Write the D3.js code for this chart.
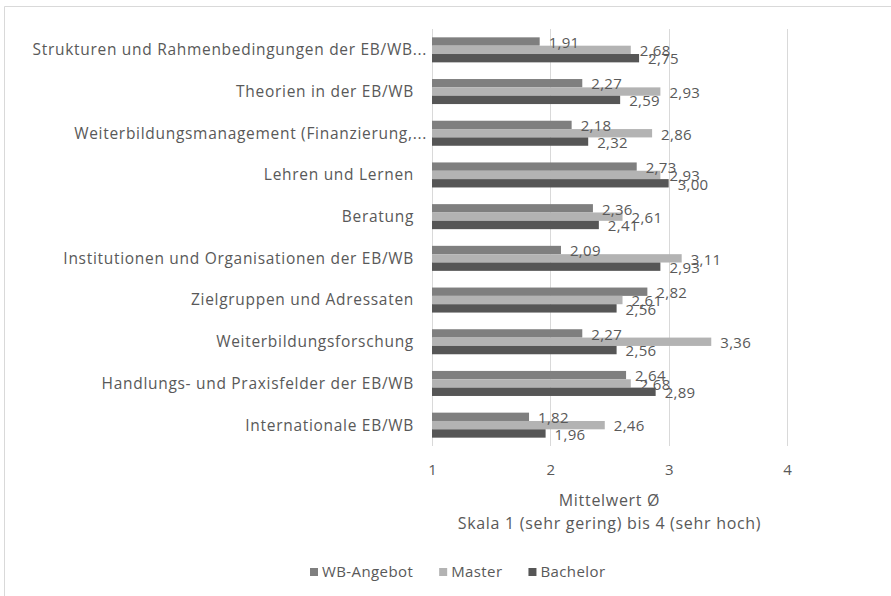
<!DOCTYPE html>
<html>
<head>
<meta charset="utf-8">
<script src="https://cdn.jsdelivr.net/npm/d3@7"></script>
<style>
  html, body { margin: 0; padding: 0; background: #fff; }
  svg { display: block; }
  text { font-family: "Open Sans", "Noto Sans", sans-serif; fill: #595959; }
</style>
</head>
<body>
<svg id="chart" width="891" height="596"></svg>
<script>
const categories = [
  "Strukturen und Rahmenbedingungen der EB/WB...",
  "Theorien in der EB/WB",
  "Weiterbildungsmanagement (Finanzierung,...",
  "Lehren und Lernen",
  "Beratung",
  "Institutionen und Organisationen der EB/WB",
  "Zielgruppen und Adressaten",
  "Weiterbildungsforschung",
  "Handlungs- und Praxisfelder der EB/WB",
  "Internationale EB/WB"
];
const seriesNames = ["WB-Angebot", "Master", "Bachelor"];
const wbAngebot = [1.91, 2.27, 2.18, 2.73, 2.36, 2.09, 2.82, 2.27, 2.64, 1.82];
const master    = [2.68, 2.93, 2.86, 2.93, 2.61, 3.11, 2.61, 3.36, 2.68, 2.46];
const bachelor  = [2.75, 2.59, 2.32, 3.00, 2.41, 2.93, 2.56, 2.56, 2.89, 1.96];
const xTicks = [1, 2, 3, 4];
const axisTitle = ["Mittelwert Ø", "Skala 1 (sehr gering) bis 4 (sehr hoch)"];

const seriesValues = [wbAngebot, master, bachelor];
const colors = ["#7f7f7f", "#b3b3b3", "#565656"];

const svg = d3.select("#chart");

// outer chart border
svg.append("path")
  .attr("d", "M4.5,596 L4.5,6.5 L891,6.5")
  .attr("fill", "none").attr("stroke", "#d9d9d9").attr("stroke-width", 1);

const plotTop = 29, plotBottom = 446;
const x = d3.scaleLinear().domain([1, 4]).range([432, 787]);
const y = d3.scaleBand().domain(categories).range([plotTop, plotBottom]).paddingInner(0.4).paddingOuter(0.2);
const ys = d3.scaleBand().domain(seriesNames).range([0, y.bandwidth()]).padding(0);

// gridlines
svg.append("g").selectAll("line").data(xTicks).join("line")
  .attr("x1", d => Math.round(x(d)) + 0.5).attr("x2", d => Math.round(x(d)) + 0.5)
  .attr("y1", plotTop).attr("y2", plotBottom)
  .attr("stroke", "#d9d9d9").attr("stroke-width", 1);

// x axis tick labels
const xAxis = d3.axisBottom(x).tickValues(xTicks).tickSize(0).tickPadding(0).tickFormat(d3.format("d"));
const gx = svg.append("g").attr("transform", `translate(0,${plotBottom + 24})`).call(xAxis);
gx.select(".domain").remove();
gx.selectAll("text").attr("font-size", 15).attr("fill", "#595959")
  .attr("font-family", "Open Sans, Noto Sans, sans-serif").attr("dy", "0.35em");

// category labels
svg.append("g").selectAll("text").data(categories).join("text")
  .attr("x", d => d.endsWith("...") ? 427 : 414)
  .attr("y", d => y(d) + y.bandwidth() / 2)
  .attr("dy", "0.35em")
  .attr("text-anchor", "end")
  .attr("font-size", 15.5)
  .attr("letter-spacing", "0.7px")
  .text(d => d);

// bars
const barData = [];
seriesNames.forEach((s, si) => {
  categories.forEach((c, ci) => {
    barData.push({ cat: c, series: s, si, value: seriesValues[si][ci] });
  });
});

svg.append("g").selectAll("rect").data(barData).join("rect")
  .attr("x", x(1))
  .attr("y", d => y(d.cat) + ys(d.series))
  .attr("width", d => x(d.value) - x(1))
  .attr("height", ys.bandwidth())
  .attr("fill", d => colors[d.si]);

// value labels
const fmt = v => d3.format(".2f")(v).replace(".", ",");
svg.append("g").selectAll("text").data(barData).join("text")
  .attr("x", d => x(d.value) + 9)
  .attr("y", d => y(d.cat) + ys(d.series) + ys.bandwidth() / 2 + 1)
  .attr("dy", "0.35em")
  .attr("font-size", 15)
  .attr("letter-spacing", "0.3px")
  .attr("fill", "#404040")
  .text(d => fmt(d.value));

// axis title
const cx = (x(1) + x(4)) / 2;
svg.append("g").selectAll("text").data(axisTitle).join("text")
  .attr("x", cx)
  .attr("y", (d, i) => 500 + i * 23)
  .attr("dy", "0.35em")
  .attr("text-anchor", "middle")
  .attr("font-size", 16)
  .attr("letter-spacing", "0.7px")
  .text(d => d);

// legend
const legend = svg.append("g");
const items = legend.selectAll("g").data(seriesNames).join("g");
items.append("rect").attr("width", 8).attr("height", 8).attr("y", -4)
  .attr("fill", (d, i) => colors[i]);
items.append("text").attr("x", 12).attr("dy", "0.35em").attr("font-size", 15)
  .attr("letter-spacing", "0.4px").text(d => d);
let offset = 0;
const positions = [];
items.each(function () {
  const w = this.getBBox().width;
  positions.push(offset);
  offset += w + 26;
});
items.attr("transform", (d, i) => `translate(${310 + positions[i]},572)`);
</script>
</body>
</html>
